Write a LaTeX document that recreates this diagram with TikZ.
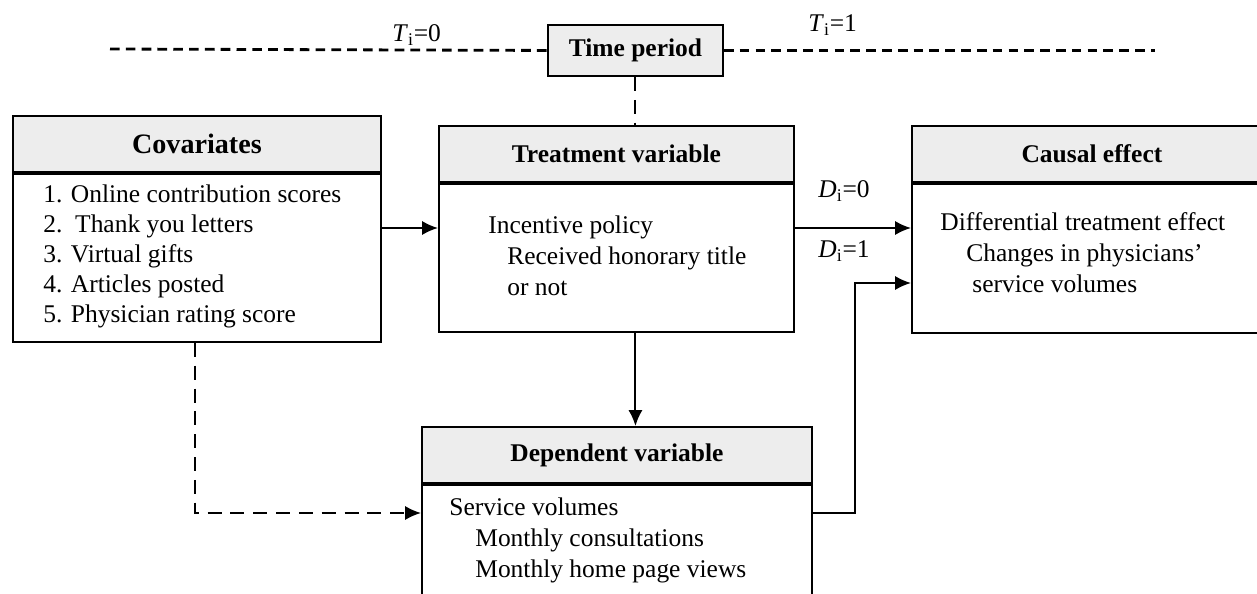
\documentclass[tikz,border=0pt]{standalone}
\usepackage{fontspec}
\setmainfont{Liberation Serif}
\usetikzlibrary{arrows.meta,positioning}

\tikzset{
	boxhead/.style={draw, line width=1.1pt, fill=black!7, anchor=north west, inner sep=0pt, minimum height=1.12cm, font=\fontsize{14.5}{17}\selectfont\bfseries},
	boxbody/.style={draw, line width=1.1pt, anchor=north west, inner sep=0pt},
	boxtext/.style={anchor=north west, inner sep=0pt, align=left, font=\fontsize{14.5}{17.6}\selectfont},
	lbl/.style={anchor=base west, inner sep=0pt, font=\fontsize{14.5}{17}\selectfont},
	arr/.style={line width=1.1pt, -{Latex[length=9pt,width=8pt]}},
	dsh/.style={line width=1.1pt, dash pattern=on 8pt off 5pt},
	tline/.style={line width=1.6pt, dash pattern=on 5.5pt off 3.5pt},
}

\begin{document}
\begin{tikzpicture}[x=0.02cm, y=-0.02cm]
			%%%%% START %%%%%
			\clip (0, 0) rectangle (1257, 594);
			
			% time period
			\node[boxhead, minimum width=3.5cm, minimum height=1.02cm] (tp) at (547, 24) {Time period};
			\coordinate (tleft) at (110, 49);
			\coordinate (tright) at (1155, 47);
			\draw[tline] (tleft) -- (tp.west);
			\draw[tline] (tp.east) -- (tp.east -| tright);
			\node[lbl] (tzero) at (392, 42) {\textit{T}\textsubscript{i}=0};
			\node[lbl] (tone) at (808, 32) {\textit{T}\textsubscript{i}=1};
			
			% covariates
			\node[boxhead, minimum width=7.36cm, font=\fontsize{16}{18}\selectfont\bfseries] (covhead) at (12, 115) {Covariates};
			\node[boxbody, minimum width=7.36cm, minimum height=3.36cm] (covbody) at (covhead.south west) {};
			\node[boxtext, font=\fontsize{14.5}{17}\selectfont] (covlist) at ([shift={(31, 12)}]covbody.north west) {1. Online contribution scores\\2.\ \ Thank you letters\\3. Virtual gifts\\4. Articles posted\\5. Physician rating score};
			
			% treatment variable
			\node[boxhead, minimum width=7.1cm] (trhead) at (438, 125) {Treatment variable};
			\node[boxbody, minimum width=7.1cm, minimum height=2.96cm] (trbody) at (trhead.south west) {};
			\node[boxtext] (trlist) at ([shift={(50, 33)}]trbody.north west) {Incentive policy\\\hspace*{0.38cm}Received honorary title\\\hspace*{0.38cm}or not};
			
			% causal effect
			\node[boxhead, minimum width=7.2cm] (cehead) at (911, 125) {Causal effect};
			\node[boxbody, minimum width=7.2cm, minimum height=2.98cm] (cebody) at (cehead.south west) {};
			\node[boxtext] (celist) at ([shift={(29, 29)}]cebody.north west) {Differential treatment effect\\\hspace*{0.52cm}Changes in physicians'\\\hspace*{0.64cm}service volumes};
			
			% dependent variable
			\node[boxhead, minimum width=7.8cm] (dvhead) at (421, 426) {Dependent variable};
			\node[boxbody, minimum width=7.8cm, minimum height=3cm] (dvbody) at (dvhead.south west) {};
			\node[boxtext] (dvlist) at ([shift={(28, 14)}]dvbody.north west) {Service volumes\\\hspace*{0.52cm}Monthly consultations\\\hspace*{0.52cm}Monthly home page views};
			
			% connectors
			\coordinate (dzeroy) at (0, 228);
			\coordinate (doney) at (855, 283);
			\coordinate (svy) at (0, 513);
			
			\draw[dsh] (tp.south) -- (tp.south |- trhead.north);
			\draw[arr] (covbody.east |- dzeroy) -- (trbody.west |- dzeroy);
			\draw[arr] (trbody.east |- dzeroy) -- (cebody.west |- dzeroy);
			\draw[arr] (tp.south |- trbody.south) -- (tp.south |- dvhead.north);
			\draw[arr] (dvbody.east |- svy) -| (doney) -- (cebody.west |- doney);
			\draw[dsh, -{Latex[length=9pt,width=8pt]}] ([shift={(183, 0)}]covbody.south west) |- (dvbody.west |- svy);
			
			\node[lbl] (dzero) at (818, 198) {\textit{D}\textsubscript{i}=0};
			\node[lbl] (done) at (818, 258) {\textit{D}\textsubscript{i}=1};
			%%%%% END %%%%%
\end{tikzpicture}
\end{document}
